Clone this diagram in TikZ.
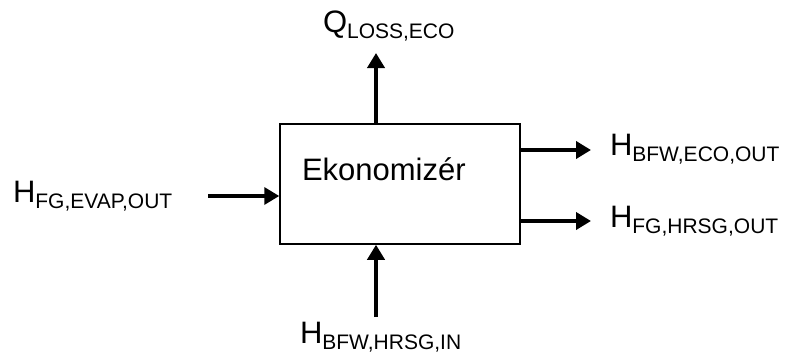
\documentclass[tikz,border=0pt]{standalone}
\usepackage{fontspec}
\setmainfont{Liberation Sans}
\usetikzlibrary{arrows.meta}
\newcommand{\mainsz}{\fontsize{31}{36}\selectfont}
\newcommand{\lbl}[2]{{\mainsz #1}{\fontsize{21}{24}\selectfont\raisebox{-6pt}{#2}}}
\begin{document}
\begin{tikzpicture}[x=1pt,y=-1pt,
  flow/.style={line width=4pt,-{Triangle[length=15pt,width=17pt]}},
  flowin/.style={line width=3.4pt,-{Triangle[length=15pt,width=17pt]}},
  lab/.style={anchor=base west,inner sep=0pt,outer sep=0pt}]
\useasboundingbox (0,0) rectangle (786,353);
\node[draw,line width=1.5pt,minimum width=240pt,minimum height=120pt,inner sep=0pt] (box) at (400,184) {};
\node[lab] (name) at (302,180) {\mainsz Ekonomizér};
% free ends
\coordinate (topend) at (376,53);
\coordinate (leftstart) at (208,196);
\coordinate (botstart) at (376,317);
\coordinate (r1end) at (591,150);
\coordinate (r2end) at (591,221);
% labels
\node[lab] (qloss) at (323,33) {\lbl{Q}{LOSS,ECO}};
\node[lab] (hfgevap) at (13,202) {\lbl{H}{FG,EVAP,OUT}};
\node[lab] (hbfwin) at (300,343) {\lbl{H}{BFW,HRSG,IN}};
\node[lab] (hbfwout) at (610,155) {\lbl{H}{BFW,ECO,OUT}};
\node[lab] (hfgout) at (610,227) {\lbl{H}{FG,HRSG,OUT}};
% connectors
\draw[flow] (box.north -| topend) -- (topend);
\draw[flowin] (leftstart) -- (box.west |- leftstart);
\draw[flow] (botstart) -- (box.south -| botstart);
\draw[flow] (box.east |- r1end) -- (r1end);
\draw[flow] (box.east |- r2end) -- (r2end);
\end{tikzpicture}
\end{document}
